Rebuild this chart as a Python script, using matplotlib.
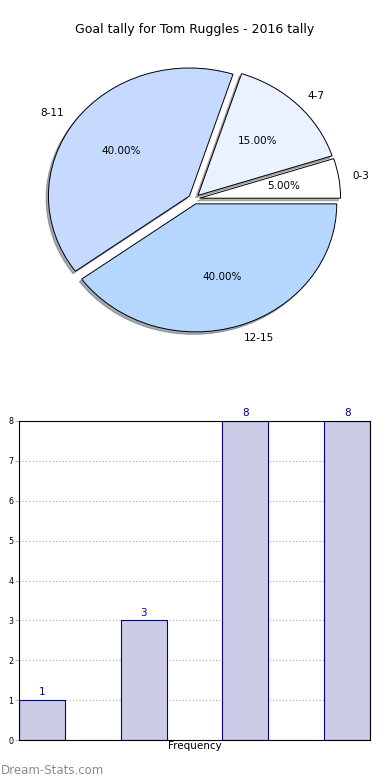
import matplotlib
matplotlib.use("Agg")
import matplotlib.pyplot as plt

# Data
pie_labels = ["0-3", "4-7", "8-11", "12-15"]
pie_values = [5, 15, 40, 40]
pie_colors = ["#FFFFFF", "#EAF1FF", "#C6D9FF", "#B5D6FF"]

bar_values = [1, 3, 8, 8]
bar_ticks = [0, 1, 2, 3, 4, 5, 6, 7, 8]

plt.rcParams['font.family'] = ['DejaVu Sans']

fig = plt.figure(figsize=(3.9, 7.8), dpi=100)

# Pie chart
W, H = 390.0, 780.0
cx, cy = 194.0, 199.0   # pixel centre (top-origin)
rx, ry = 141.0, 128.0
ax_top, ax_bot = 55.0, 345.0
axp = fig.add_axes([0, (H - ax_bot) / H, 1, (ax_bot - ax_top) / H])
wedges, texts, autotexts = axp.pie(
    pie_values, labels=pie_labels, colors=pie_colors, autopct="%1.2f%%",
    explode=[0.04] * 4, shadow=dict(ox=-0.012, oy=-0.014, shade=0.6),
    startangle=0, counterclock=True,
    pctdistance=0.6, labeldistance=1.1,
    wedgeprops=dict(edgecolor="black", linewidth=0.7),
    textprops=dict(fontsize=7.5))
axp.set_aspect('auto')
axp.set_xlim(-cx / rx, (W - cx) / rx)
axp.set_ylim(-(ax_bot - cy) / ry, (cy - ax_top) / ry)
axp.axis('off')

fig.text(0.5, 1 - 30 / H, "Goal tally for Tom Ruggles - 2016 tally",
         ha="center", va="center", fontsize=9)

# Bar chart
axb = fig.add_axes([19 / W, 40 / H, 351 / W, 319 / H])
xpos = list(range(len(bar_values)))
bars = axb.bar(xpos, bar_values, width=0.45, align="edge",
               color="#CCCCE6", edgecolor="#000099", linewidth=0.8, zorder=2)
for b, v in zip(bars, bar_values):
    axb.text(b.get_x() + b.get_width() / 2, v + 0.07, str(v),
             ha="center", va="bottom", fontsize=7.5, color="#000088")
axb.set_xlim(0, 3.45)
axb.set_ylim(0, 8)
axb.set_yticks(bar_ticks)
axb.set_xticks([])
axb.tick_params(axis="y", labelsize=5.8, length=3, width=0.5, color="#999999", pad=1)
axb.yaxis.grid(True, linestyle=(0, (1, 2)), color="#AAAAAA", linewidth=0.8, zorder=0)
axb.set_axisbelow(True)
axb.set_xlabel("Frequency", fontsize=7.5, labelpad=1)
for s in axb.spines.values():
    s.set_color("black")
    s.set_linewidth(0.8)

fig.text(1 / W, 1 - 770 / H, "Dream-Stats.com", ha="left", va="center",
         fontsize=8.5, color="#8C8C8C")

fig.savefig("out.png", dpi=100)
